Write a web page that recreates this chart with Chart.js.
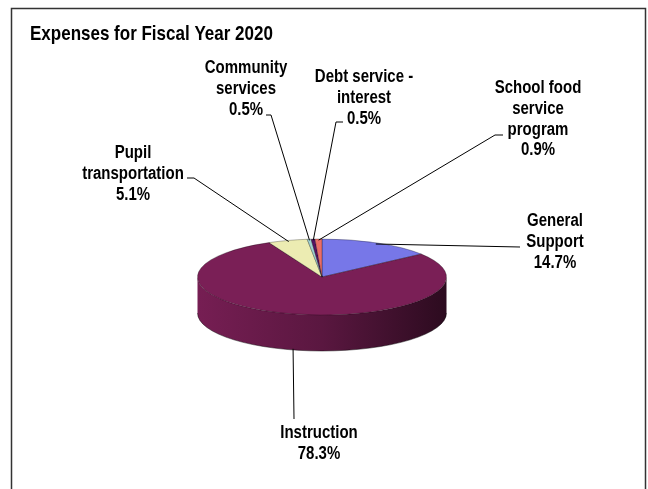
<!DOCTYPE html>
<html>
<head>
<meta charset="utf-8">
<title>Expenses for Fiscal Year 2020</title>
<script src="https://cdn.jsdelivr.net/npm/chart.js@4.4.1/dist/chart.umd.min.js"></script>
<style>
  html, body { margin: 0; padding: 0; background: #fff; }
  canvas { display: block; }
</style>
</head>
<body>
<canvas id="expenses" width="648" height="489"></canvas>
<script>
// Expense categories and their share of the budget (percent)
const categories = [
  "General Support",
  "Instruction",
  "Pupil transportation",
  "Community services",
  "Debt service - interest",
  "School food service program"
];
const shares = [14.7, 78.3, 5.1, 0.5, 0.5, 0.9];

// Label text, split into lines the way they are printed
const labelLines = [
  ["General", "Support"],
  ["Instruction"],
  ["Pupil", "transportation"],
  ["Community", "services"],
  ["Debt service -", "interest"],
  ["School food", "service", "program"]
];

const sliceColors = ["#7777E8", "#7A1F56", "#ECECB2", "#9FD2D2", "#561262", "#EA6E68"];

// Where each label block sits (center x, first line y) and the elbow of its leader line
const labelBoxes = [
  { x: 555, y: 221, elbow: [[520, 247]] },
  { x: 319, y: 433, elbow: [[294, 419]] },
  { x: 133, y: 153, elbow: [[187, 178], [194, 178]] },
  { x: 246, y: 68,  elbow: [[266, 115], [271, 115]] },
  { x: 364, y: 77,  elbow: [[343, 122], [336, 122]] },
  { x: 538, y: 88,  elbow: [[503, 135], [495, 135]] }
];

const RX = 124.5;        // pie radius (horizontal)
const TILT = 38 / 124.5; // vertical squash of the top face
const DEPTH = 36;        // thickness of the disc
const LINE_H = 20.8;
const TEXT_STRETCH = 1.22;

function shade(hex, f) {
  const n = parseInt(hex.slice(1), 16);
  const r = Math.round(((n >> 16) & 255) * f);
  const g = Math.round(((n >> 8) & 255) * f);
  const b = Math.round((n & 255) * f);
  return `rgb(${r},${g},${b})`;
}

function stretchedText(ctx, text, x, y) {
  ctx.save();
  ctx.translate(x, y);
  ctx.scale(1, TEXT_STRETCH);
  ctx.fillText(text, 0, 0);
  ctx.restore();
}

const pie3d = {
  id: "pie3d",
  beforeDraw(chart) {
    const { ctx } = chart;
    ctx.save();
    ctx.fillStyle = "#fff";
    ctx.fillRect(0, 0, chart.width, chart.height);
    // outer frame, open at the bottom
    ctx.strokeStyle = "#333";
    ctx.lineWidth = 1.5;
    ctx.beginPath();
    ctx.moveTo(11.5, chart.height + 2);
    ctx.lineTo(11.5, 8.5);
    ctx.lineTo(645.5, 8.5);
    ctx.lineTo(645.5, chart.height + 2);
    ctx.stroke();
    // title
    ctx.fillStyle = "#000";
    ctx.font = "bold 17px 'Liberation Sans', Arial, sans-serif";
    ctx.textAlign = "left";
    ctx.textBaseline = "middle";
    stretchedText(ctx, "Expenses for Fiscal Year 2020", 30, 34);
    ctx.restore();
  },
  beforeDatasetsDraw(chart) {
    const { ctx } = chart;
    const arcs = chart.getDatasetMeta(0).data;
    const cx = arcs[0].x, cy = arcs[0].y, r = arcs[0].outerRadius, ry = r * TILT;

    // side walls: only the front half (canvas angles 0..PI) is visible
    ctx.save();
    arcs.forEach((arc, i) => {
      const span = arc.endAngle - arc.startAngle;
      let a = arc.startAngle % (2 * Math.PI);
      if (a < 0) a += 2 * Math.PI;
      const b = a + span;
      [[0, Math.PI], [2 * Math.PI, 3 * Math.PI]].forEach(([lo, hi]) => {
        const s = Math.max(a, lo), e = Math.min(b, hi);
        if (e <= s) return;
        const grad = ctx.createLinearGradient(cx - r, 0, cx + r, 0);
        grad.addColorStop(0, shade(sliceColors[i], 0.97));
        grad.addColorStop(0.5, shade(sliceColors[i], 0.74));
        grad.addColorStop(1, shade(sliceColors[i], 0.36));
        ctx.beginPath();
        ctx.ellipse(cx, cy, r, ry, 0, s, e);
        ctx.ellipse(cx, cy + DEPTH, r, ry, 0, e, s, true);
        ctx.closePath();
        ctx.fillStyle = grad;
        ctx.fill();
        ctx.strokeStyle = "rgba(0,0,0,0.55)";
        ctx.lineWidth = 0.8;
        ctx.beginPath();
        ctx.ellipse(cx, cy + DEPTH, r, ry, 0, s, e);
        ctx.stroke();
      });
    });
    ctx.restore();

    // squash the top face into an ellipse
    ctx.save();
    ctx.translate(cx, cy);
    ctx.scale(1, TILT);
    ctx.translate(-cx, -cy);
  },
  afterDatasetsDraw(chart) {
    const { ctx } = chart;
    ctx.restore();

    const arcs = chart.getDatasetMeta(0).data;
    const values = chart.data.datasets[0].data;
    ctx.save();
    ctx.strokeStyle = "#000";
    ctx.lineWidth = 1;
    ctx.fillStyle = "#000";
    ctx.font = "bold 15px 'Liberation Sans', Arial, sans-serif";
    ctx.textAlign = "center";
    ctx.textBaseline = "middle";
    arcs.forEach((arc, i) => {
      const mid = (arc.startAngle + arc.endAngle) / 2;
      const r = arc.outerRadius;
      let ax = arc.x + Math.cos(mid) * r * 0.97;
      let ay = arc.y + Math.sin(mid) * r * TILT * 0.97;
      if (Math.sin(mid) > 0) ay += DEPTH;
      const box = labelBoxes[i];
      ctx.beginPath();
      ctx.moveTo(ax, ay);
      box.elbow.slice().reverse().forEach(([x, y]) => ctx.lineTo(x, y));
      ctx.stroke();

      const lines = labelLines[i].concat(values[i].toFixed(1) + "%");
      lines.forEach((t, k) => stretchedText(ctx, t, box.x, box.y + k * LINE_H));
    });
    ctx.restore();
  }
};

new Chart(document.getElementById("expenses"), {
  type: "pie",
  data: {
    labels: categories,
    datasets: [{
      data: shares,
      backgroundColor: sliceColors,
      borderColor: "rgba(0,0,0,0.55)",
      borderWidth: 0.8,
      radius: RX,
      clip: false
    }]
  },
  options: {
    responsive: false,
    animation: false,
    layout: { padding: { left: 100, right: 104, top: 100, bottom: 35 } },
    plugins: {
      legend: { display: false },
      tooltip: { enabled: false },
      title: { display: false }
    }
  },
  plugins: [pie3d]
});
</script>
</body>
</html>
